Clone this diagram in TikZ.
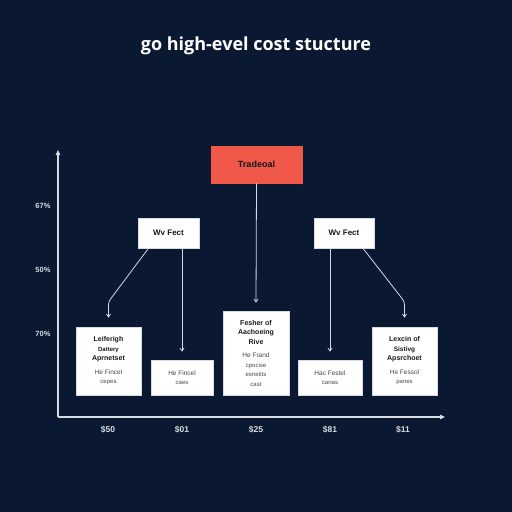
\documentclass[tikz,border=0pt]{standalone}
\usepackage{fontspec}
\setmainfont{Liberation Sans}
\newfontfamily\titlefont{Open Sans}
\usetikzlibrary{arrows.meta}
\definecolor{navybg}{RGB}{11,24,50}
\definecolor{tradered}{RGB}{240,88,74}
\definecolor{linegray}{RGB}{214,218,226}
\definecolor{inkdark}{RGB}{24,24,28}
\definecolor{inkgray}{RGB}{70,72,78}
\pgfmathsetmacro{\myaxisy}{417}
\pgfmathsetmacro{\myaxisx}{58}
\pgfmathsetmacro{\mylaby}{430}
\newlength{\mygap}
\setlength{\mygap}{4pt}

\begin{document}
\begin{tikzpicture}[x=1pt, y=-1pt,
    box/.style={draw=linegray, fill=white, line width=0.6pt, inner sep=1pt, align=center, text=inkdark,
                font=\fontsize{7}{9.5}\selectfont},
    link/.style={draw=linegray, line width=0.8pt, -{Straight Barb[length=3pt,width=4pt]}},
    axis/.style={draw=linegray, line width=1.2pt, -{Triangle[length=5pt,width=4.5pt]}},
    tick/.style={text=linegray, font=\fontsize{8.5}{10}\selectfont\bfseries}]

\fill[navybg] (0,0) rectangle (512,512);
\useasboundingbox (0,0) rectangle (512,512);

\node[text=white, font=\titlefont\fontsize{18}{21}\selectfont\bfseries] (title) at (256,46) {go high-evel cost stucture};

\draw[axis] (\myaxisx,\myaxisy) -- (\myaxisx,150);
\draw[axis] (\myaxisx,\myaxisy) -- (445,\myaxisy);

\node[tick, font=\fontsize{7.5}{9}\selectfont\bfseries] (p1) at (43,206) {67\%};
\node[tick, font=\fontsize{7.5}{9}\selectfont\bfseries] (p2) at (43,270) {50\%};
\node[tick, font=\fontsize{7.5}{9}\selectfont\bfseries] (p3) at (43,334) {70\%};

\node[tick] (c1) at (108,\mylaby) {\$50};
\node[tick] (c2) at (182,\mylaby) {\$01};
\node[tick] (c3) at (256,\mylaby) {\$25};
\node[tick] (c4) at (330,\mylaby) {\$81};
\node[tick] (c5) at (403,\mylaby) {\$11};

\node[box, draw=tradered, fill=tradered, minimum width=91pt, minimum height=37pt,
      font=\fontsize{9}{10}\selectfont\bfseries] (trade) at (256.5,164.5) {Tradeoal};

\node[box, minimum width=61pt, minimum height=30pt, font=\fontsize{8}{9}\selectfont\bfseries] (factL) at (168.5,233) {Wv Fect};
\node[box, minimum width=60pt, minimum height=30pt, font=\fontsize{8}{9}\selectfont\bfseries] (factR) at (344,233) {Wv Fect};

\node[box, minimum width=65pt, minimum height=68pt] (lagL) at (108.5,361) {
    \bfseries Leiferigh\\
    {\fontsize{6}{9.5}\selectfont\bfseries Dattery}\\
    \bfseries Aprnetset\\[\mygap]
    {\fontsize{6.5}{9.5}\selectfont\color{inkgray} He Fincel}\\
    {\fontsize{6}{9.5}\selectfont\color{inkgray} cepes}};
\node[box, minimum width=62pt, minimum height=35pt] (fixL) at (182,377.5) {
    {\fontsize{6.5}{9.5}\selectfont\color{inkgray} He Fincel}\\
    {\fontsize{6}{9.5}\selectfont\color{inkgray} caes}};
\node[box, minimum width=66pt, minimum height=84pt] (core) at (256,353) {
    \bfseries Fesher of\\
    \bfseries Aachoeing\\
    \bfseries Rive\\[\mygap]
    {\fontsize{6.5}{9}\selectfont\color{inkgray} He Frand}\\
    {\fontsize{6}{9}\selectfont\color{inkgray} cpocise}\\
    {\fontsize{6}{9}\selectfont\color{inkgray} esnetits}\\
    {\fontsize{6}{9}\selectfont\color{inkgray} cast}};
\node[box, minimum width=64pt, minimum height=35pt] (fixR) at (330,377.5) {
    {\fontsize{6.5}{9.5}\selectfont\color{inkgray} Hac Festel}\\
    {\fontsize{6}{9.5}\selectfont\color{inkgray} canas}};
\node[box, minimum width=65pt, minimum height=68pt] (lagR) at (404.5,361) {
    \bfseries Lexcin of\\
    {\fontsize{6.5}{9.5}\selectfont\bfseries Sistivg}\\
    \bfseries Apsrchoet\\[\mygap]
    {\fontsize{6.5}{9.5}\selectfont\color{inkgray} He Fessol}\\
    {\fontsize{6}{9.5}\selectfont\color{inkgray} panes}};

\draw[link] (trade.south) -- ([yshift=8pt]core.north);
\draw[link, rounded corners=3pt] ([xshift=-20pt]factL.south) -- ([yshift=25pt]lagL.north) -- ([yshift=9pt]lagL.north);
\draw[link] ([xshift=13.5pt]factL.south) -- ([yshift=8pt]fixL.north);
\draw[link] ([xshift=-14pt]factR.south) -- ([yshift=8pt]fixR.north);
\draw[link, rounded corners=3pt] ([xshift=19pt]factR.south) -- ([yshift=25pt]lagR.north) -- ([yshift=9pt]lagR.north);
\end{tikzpicture}
\end{document}
